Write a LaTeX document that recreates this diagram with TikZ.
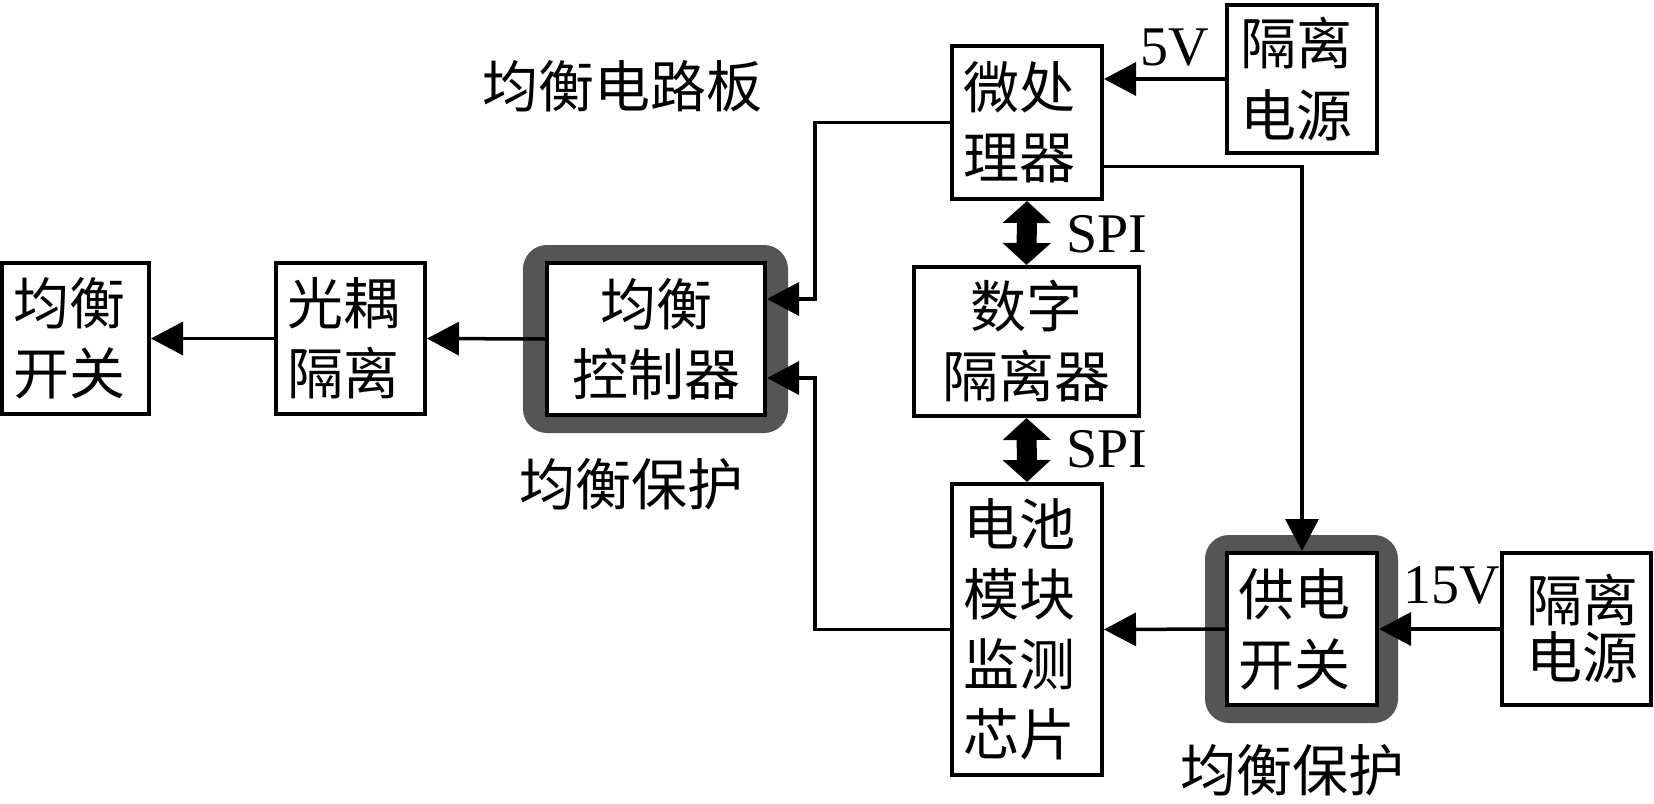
\documentclass[tikz,border=0pt]{standalone}
\usepackage{fontspec}
\setmainfont{Liberation Serif}
\newfontfamily\cjk{Noto Sans CJK SC}
\usetikzlibrary{arrows.meta}
\definecolor{band}{HTML}{555555}
\begin{document}
\begin{tikzpicture}[x=1pt,y=-1pt,
  box/.style={draw, line width=4pt, fill=white, inner sep=0pt,
    font=\cjk\fontsize{56}{70}\selectfont},
  lbox/.style={align=left, text width=128pt, inner xsep=11pt},
  guard/.style={fill=band, draw=none, rounded corners=24pt, inner sep=0pt},
  lbl/.style={font=\cjk\fontsize{56}{70}\selectfont, inner sep=0pt},
  volt/.style={font=\fontsize{56}{60}\selectfont, inner sep=0pt},
  arr/.style={line width=3.5pt, -{Triangle[length=32pt,width=33pt]}},
  dbl/.style={line width=20pt, {Triangle[length=22pt,width=47pt]}-{Triangle[length=22pt,width=47pt]}}
]
\useasboundingbox[fill=white] (0,0) rectangle (1654,803);

% protection bands
\node[guard, minimum width=265, minimum height=188] (g1) at (655.5,339) {};
\node[guard, minimum width=193, minimum height=188] (g2) at (1301.5,629) {};

% boxes
\node[box, lbox, text width=125pt, minimum height=151] (sw) at (75.5,338.5) {均衡\\开关};
\node[box, lbox, text width=127pt, minimum height=151] (opto) at (350.5,338.5) {光耦\\隔离};
\node[box, align=center, minimum width=218, minimum height=152] (ctrl) at (656,339) {均衡\\控制器};
\node[box, lbox, minimum height=153] (mcu) at (1027,122.5) {微处\\理器};
\node[box, lbox, inner xsep=13pt, text width=124pt, minimum height=148,
  font=\cjk\fontsize{56}{72}\selectfont] (iso1) at (1302,79) {隔离\\电源};
\node[box, align=center, minimum width=225, minimum height=149] (dig) at (1026.5,341.5) {数字\\隔离器};
\node[box, lbox, minimum height=291] (batt) at (1027,629.5) {电池\\模块\\监测\\芯片};
\node[box, lbox, minimum height=152] (pwr) at (1302,629) {供电\\开关};
\node[box, align=right, text width=123pt, inner xsep=13pt, minimum height=152,
  font=\cjk\fontsize{56}{57}\selectfont] (iso2) at (1576.5,629) {隔离\\电源};

% labels
\node[lbl] (board) at (622,86) {均衡电路板};
\node[lbl] (prot1) at (631,484) {均衡保护};
\node[lbl] (prot2) at (1292,770) {均衡保护};
\node[volt] (v5) at (1175,48) {5V};
\node[volt] (v15) at (1452,585) {15V};
\node[volt, anchor=west] (spi1) at (1066,234) {SPI};
\node[volt, anchor=west] (spi2) at (1066,449) {SPI};

% connectors
\draw[arr] (ctrl.west) -- (opto.east);
\draw[arr] (opto.west) -- (sw.east);
\draw[arr] (mcu.west) -- ++(-135,0) |- ([yshift=40pt]ctrl.east);
\draw[arr] (batt.west) -- ++(-135,0) |- ([yshift=-39pt]ctrl.east);
\draw[arr] ([yshift=-44pt]mcu.east) -| (pwr.north);
\draw[arr] (iso1.west) -- (iso1.west -| mcu.east);
\draw[arr] (iso2.west) -- (pwr.east);
\draw[arr] (pwr.west) -- (batt.east);
\draw[dbl] (mcu.south) -- (dig.north);
\draw[dbl] (dig.south) -- (batt.north);
\end{tikzpicture}
\end{document}
